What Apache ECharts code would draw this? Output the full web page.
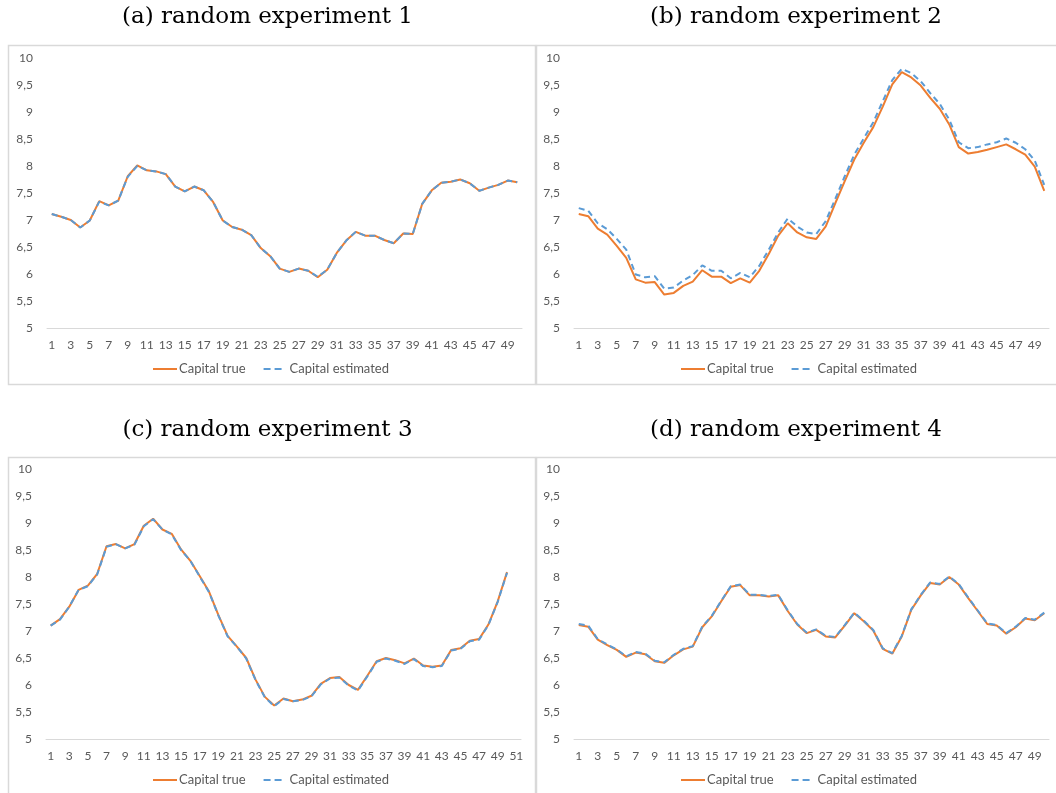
<!DOCTYPE html>
<html>
<head>
<meta charset="utf-8">
<script src="https://cdn.jsdelivr.net/npm/echarts@6/dist/echarts.min.js"></script>
<style>
html,body{margin:0;padding:0;background:#fff;}
#chart{width:1056px;height:793px;}
</style>
</head>
<body>
<div id="chart"></div>
<script>
// ---- data ----
const titles = ['(a) random experiment 1', '(b) random experiment 2', '(c) random experiment 3', '(d) random experiment 4'];
const seriesNames = ['Capital true', 'Capital estimated'];
const yTicks = [5, 5.5, 6, 6.5, 7, 7.5, 8, 8.5, 9, 9.5, 10];

const catsA = Array.from({length: 50}, (_, i) => String(i + 1));
const catsB = Array.from({length: 50}, (_, i) => String(i + 1));
const catsC = Array.from({length: 51}, (_, i) => String(i + 1));
const catsD = Array.from({length: 50}, (_, i) => String(i + 1));

const aTrue = [7.11,7.06,7.00,6.86,6.99,7.35,7.27,7.36,7.81,8.01, 7.92,7.90,7.85,7.62,7.53,7.62,7.55,7.33,6.99,6.87, 6.82,6.72,6.48,6.33,6.10,6.04,6.10,6.06,5.94,6.08, 6.39,6.62,6.78,6.71,6.71,6.63,6.57,6.75,6.74,7.30, 7.55,7.69,7.71,7.75,7.68,7.54,7.60,7.65,7.73,7.70];
const aEst  = [7.11,7.06,7.00,6.86,6.99,7.34,7.27,7.36,7.80,8.00, 7.92,7.90,7.85,7.62,7.53,7.62,7.55,7.33,6.99,6.87, 6.82,6.72,6.48,6.33,6.10,6.04,6.10,6.06,5.95,6.08, 6.39,6.62,6.78,6.71,6.71,6.63,6.57,6.75,6.74,7.30, 7.55,7.69,7.71,7.75,7.68,7.54,7.60,7.65,7.73,7.70];

const bTrue = [7.11,7.07,6.84,6.73,6.52,6.30,5.90,5.84,5.85,5.62, 5.65,5.78,5.86,6.07,5.95,5.95,5.83,5.92,5.84,6.06, 6.37,6.71,6.94,6.77,6.68,6.65,6.88,7.31,7.72,8.12, 8.43,8.72,9.10,9.51,9.74,9.64,9.49,9.26,9.06,8.77, 8.35,8.23,8.26,8.30,8.35,8.40,8.31,8.21,7.99,7.54];
const bEst  = [7.22,7.17,6.94,6.83,6.65,6.45,5.99,5.94,5.96,5.73, 5.75,5.88,5.98,6.16,6.06,6.06,5.92,6.02,5.94,6.15, 6.45,6.77,7.03,6.88,6.77,6.74,6.98,7.39,7.81,8.21, 8.51,8.81,9.20,9.59,9.80,9.72,9.57,9.35,9.15,8.86, 8.44,8.33,8.35,8.40,8.44,8.51,8.43,8.31,8.10,7.65];

const cTrue = [7.10,7.22,7.45,7.76,7.84,8.06,8.57,8.61,8.53,8.61, 8.95,9.08,8.88,8.80,8.51,8.30,8.02,7.73,7.30,6.91, 6.71,6.50,6.10,5.78,5.62,5.75,5.70,5.73,5.80,6.02, 6.13,6.15,6.00,5.91,6.17,6.44,6.50,6.46,6.40,6.49, 6.36,6.34,6.36,6.65,6.68,6.82,6.85,7.12,7.55,8.09];
const cEst  = [7.10,7.21,7.45,7.76,7.83,8.05,8.56,8.61,8.53,8.60, 8.94,9.07,8.88,8.79,8.50,8.30,8.01,7.72,7.29,6.90, 6.71,6.49,6.09,5.77,5.61,5.74,5.70,5.72,5.79,6.01, 6.12,6.14,5.99,5.90,6.16,6.43,6.49,6.45,6.39,6.48, 6.35,6.33,6.35,6.64,6.67,6.81,6.84,7.11,7.54,8.08];

const dTrue = [7.11,7.08,6.84,6.74,6.65,6.52,6.60,6.57,6.44,6.41, 6.55,6.66,6.71,7.07,7.27,7.55,7.82,7.85,7.66,7.66, 7.64,7.66,7.37,7.12,6.96,7.02,6.90,6.88,7.10,7.33, 7.18,7.01,6.67,6.58,6.90,7.39,7.66,7.89,7.86,8.00, 7.86,7.61,7.37,7.13,7.10,6.95,7.07,7.23,7.20,7.33];
const dEst  = [7.13,7.10,6.85,6.75,6.66,6.53,6.61,6.58,6.45,6.42, 6.56,6.67,6.72,7.08,7.28,7.56,7.83,7.86,7.67,7.67, 7.65,7.67,7.38,7.13,6.97,7.03,6.91,6.89,7.11,7.34, 7.19,7.02,6.68,6.59,6.91,7.40,7.67,7.90,7.87,8.01, 7.87,7.62,7.38,7.14,7.11,6.96,7.08,7.24,7.21,7.34];

// ---- layout ----
const panels = [
  {cats: catsA, t: aTrue, e: aEst, grid: {left: 47, top: 58, width: 475, height: 270}, title: [267.5, 17], legend: [153, 369], frame: [8.5, 45.5, 527, 339]},
  {cats: catsB, t: bTrue, e: bEst, grid: {left: 574, top: 58, width: 475, height: 270}, title: [796, 17], legend: [681, 369], frame: [536.5, 45.5, 530, 339]},
  {cats: catsC, t: cTrue, e: cEst, grid: {left: 46, top: 469, width: 475, height: 270}, title: [267.5, 430], legend: [153, 780], frame: [8.5, 457.5, 527, 350]},
  {cats: catsD, t: dTrue, e: dEst, grid: {left: 574, top: 469, width: 475, height: 270}, title: [796, 430], legend: [681, 780], frame: [536.5, 457.5, 530, 350]}
];

const orange = '#ED7D31';
const blue = '#5B9BD5';
const labelColor = '#595959';
const font = 'Lato, "Open Sans", sans-serif';
const iconSolid = 'path://M0,0H24V2H0Z';
const iconDash = 'path://M0,0H7V2H0ZM11,0H18V2H11ZM24,2L24,2L24,2Z';

const option = {
  backgroundColor: '#fff',
  animation: false,
  grid: [], xAxis: [], yAxis: [], series: [], legend: [], graphic: []
};

panels.forEach((p, i) => {
  option.graphic.push({
    type: 'rect', silent: true, z: -10,
    shape: {x: p.frame[0], y: p.frame[1], width: p.frame[2], height: p.frame[3]},
    style: {fill: '#fff', stroke: '#d9d9d9', lineWidth: 1.5}
  });
  option.graphic.push({
    type: 'text', silent: true,
    x: p.title[0], y: p.title[1],
    style: {text: titles[i], font: '23px "DejaVu Serif", serif', fill: '#000', textAlign: 'center', textVerticalAlign: 'middle'}
  });
  option.grid.push(Object.assign({containLabel: false}, p.grid));
  option.xAxis.push({
    type: 'category', gridIndex: i, data: p.cats, boundaryGap: true,
    axisLine: {show: true, lineStyle: {color: '#d9d9d9', width: 1}},
    axisTick: {show: false},
    axisLabel: {interval: 1, color: labelColor, fontFamily: font, fontSize: 12, margin: 11},
    splitLine: {show: false}
  });
  option.yAxis.push({
    type: 'value', gridIndex: i, min: 5, max: 10, interval: 0.5,
    axisLine: {show: false}, axisTick: {show: false}, splitLine: {show: false},
    axisLabel: {color: labelColor, fontFamily: font, fontSize: 12, margin: 14,
      formatter: v => yTicks.includes(v) ? String(v).replace('.', ',') : ''}
  });
  option.series.push({
    name: seriesNames[0], type: 'line', xAxisIndex: i, yAxisIndex: i, data: p.t,
    showSymbol: false, symbol: 'none', lineStyle: {color: orange, width: 2}, itemStyle: {color: orange}, z: 2
  });
  option.series.push({
    name: seriesNames[1], type: 'line', xAxisIndex: i, yAxisIndex: i, data: p.e,
    showSymbol: false, symbol: 'none', lineStyle: {color: blue, width: 2, type: [6, 4]}, itemStyle: {color: blue}, z: 3
  });
  option.legend.push({
    data: [{name: seriesNames[0], icon: iconSolid}, {name: seriesNames[1], icon: iconDash}],
    left: p.legend[0], top: p.legend[1] - 8, orient: 'horizontal',
    itemWidth: 24, itemHeight: 2, itemGap: 18, selectedMode: false,
    itemStyle: {borderWidth: 0},
    textStyle: {color: labelColor, fontFamily: font, fontSize: 13, padding: [0, 0, 0, -3], lineHeight: 16},
    padding: 0
  });
});

const chart = echarts.init(document.getElementById('chart'), null, {renderer: 'canvas'});
chart.setOption(option);
</script>
</body>
</html>
